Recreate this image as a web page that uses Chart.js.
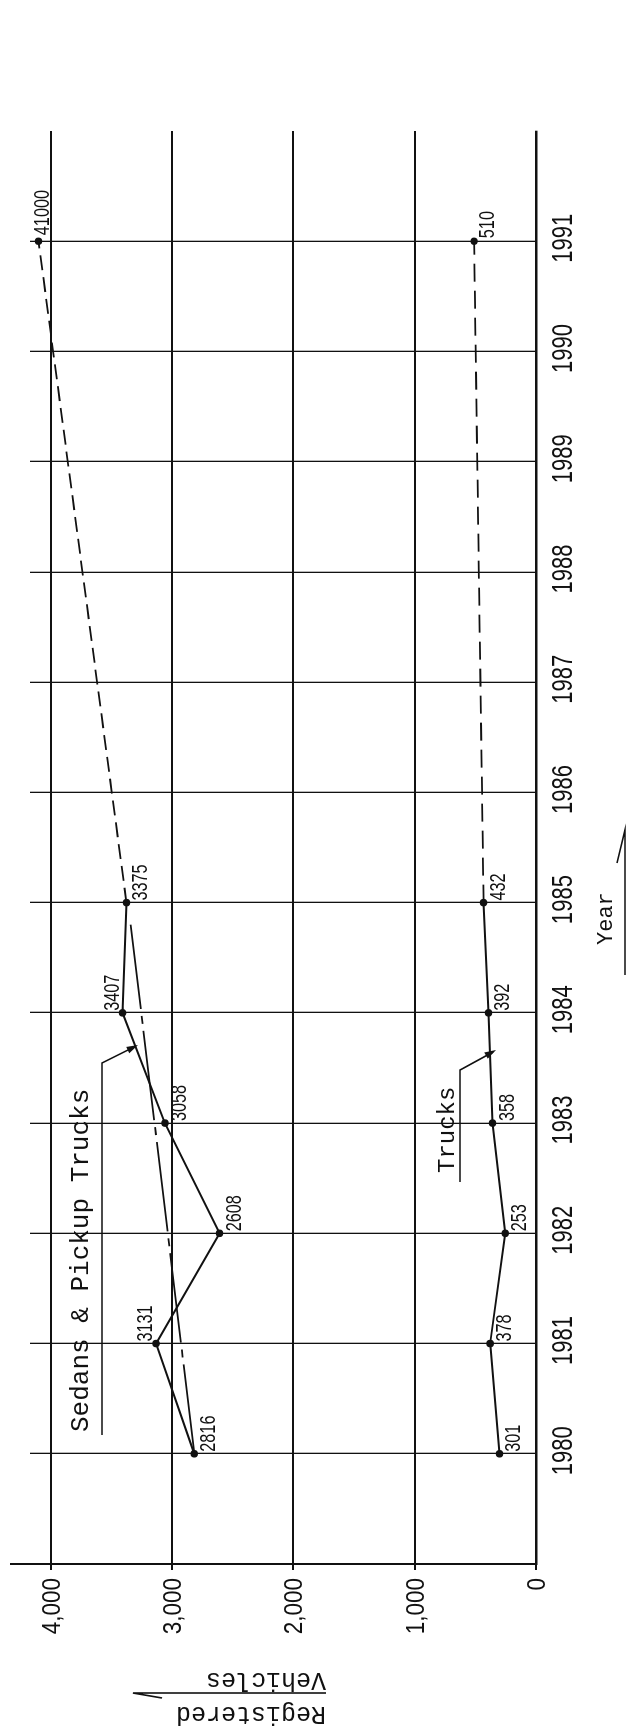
<!DOCTYPE html>
<html>
<head>
<meta charset="utf-8">
<script src="https://cdn.jsdelivr.net/npm/chart.js@4"></script>
<style>
  html, body { margin: 0; padding: 0; background: #fff; }
  body { width: 631px; height: 1727px; overflow: hidden; position: relative; }
  /* the chart is drawn lying on its side, like the scanned page */
  #stage { position: absolute; left: 0; top: 0; transform-origin: 0 0;
           transform: translate(0, 1727px) rotate(-90deg); }
</style>
</head>
<body>
<canvas id="stage" width="1727" height="631"></canvas>
<script>
var years = [1980, 1981, 1982, 1983, 1984, 1985];
var sedans = [2816, 3131, 2608, 3058, 3407, 3375];
var trucks = [301, 378, 253, 358, 392, 432];
var projYears = [1985, 1991];
var sedansProj = [3375, 4100];
var trucksProj = [432, 510];
var trendYears = [1980, 1984.8];
var trendValues = [2816, 3340];

var sedanLabels = ['2816', '3131', '2608', '3058', '3407', '3375'];
var truckLabels = ['301', '378', '253', '358', '392', '432'];
var sedansProjLabel = '41000';
var trucksProjLabel = '510';

var yearTicks = [1980, 1981, 1982, 1983, 1984, 1985, 1986, 1987, 1988, 1989, 1990, 1991];
var valueTicks = [0, 1000, 2000, 3000, 4000];
var valueTickLabels = ['0', '1,000', '2,000', '3,000', '4,000'];

// which side of the point a label sits on (up = towards larger values)
var sedanSide = ['down', 'up', 'down', 'down', 'up', 'down'];

var INK = '#111';

function pts(xs, ys) {
  return xs.map(function (x, i) { return { x: x, y: ys[i] }; });
}

// narrow lettering, like the stencil digits on the drawing
function txt(ctx, s, x, y, font, sx, align) {
  ctx.save();
  ctx.font = font;
  ctx.fillStyle = INK;
  ctx.textAlign = align || 'left';
  ctx.textBaseline = 'alphabetic';
  ctx.translate(x, y);
  ctx.scale(sx, 1);
  ctx.fillText(s, 0, 0);
  ctx.restore();
}

function line(ctx, coords, w) {
  ctx.beginPath();
  ctx.moveTo(coords[0][0], coords[0][1]);
  for (var i = 1; i < coords.length; i++) ctx.lineTo(coords[i][0], coords[i][1]);
  ctx.lineWidth = w || 1.5;
  ctx.strokeStyle = INK;
  ctx.stroke();
}

function arrowHead(ctx, fx, fy, tx, ty) {
  var a = Math.atan2(ty - fy, tx - fx);
  ctx.beginPath();
  ctx.moveTo(tx, ty);
  ctx.lineTo(tx - 12 * Math.cos(a - 0.3), ty - 12 * Math.sin(a - 0.3));
  ctx.lineTo(tx - 12 * Math.cos(a + 0.3), ty - 12 * Math.sin(a + 0.3));
  ctx.closePath();
  ctx.fillStyle = INK;
  ctx.fill();
}

var decor = {
  id: 'decor',
  afterDraw: function (chart) {
    var ctx = chart.ctx;
    var xs = chart.scales.x, ys = chart.scales.y;
    var area = chart.chartArea;

    // axis line runs a bit past the top gridline
    line(ctx, [[area.left, area.top], [area.left, 10]], 2);

    // year labels
    yearTicks.forEach(function (yr) {
      txt(ctx, String(yr), xs.getPixelForValue(yr) + 3, 572, '29px "Liberation Sans"', 0.76, 'center');
    });
    // value labels
    valueTicks.forEach(function (v, i) {
      txt(ctx, valueTickLabels[i], 149, ys.getPixelForValue(v) + 9, '25px "Liberation Sans"', 0.9, 'right');
    });

    var lf = '22px "Liberation Sans"';
    sedans.forEach(function (v, i) {
      var px = xs.getPixelForValue(years[i]), py = ys.getPixelForValue(v);
      var by = sedanSide[i] === 'up' ? py - 4 : py + 21;
      txt(ctx, sedanLabels[i], px + 2, by, lf, 0.74);
    });
    trucks.forEach(function (v, i) {
      var px = xs.getPixelForValue(years[i]), py = ys.getPixelForValue(v);
      txt(ctx, truckLabels[i], px + 2, py + 21, lf, 0.74);
    });
    var p1x = xs.getPixelForValue(projYears[1]);
    txt(ctx, sedansProjLabel, p1x + 6, ys.getPixelForValue(sedansProj[1]) + 11, lf, 0.74);
    txt(ctx, trucksProjLabel, p1x + 3, ys.getPixelForValue(trucksProj[1]) + 20, lf, 0.74);

    // series names with their leader lines
    var mono = '"Liberation Mono", monospace';
    txt(ctx, 'Sedans & Pickup Trucks', 295, 88, '26px ' + mono, 1);
    line(ctx, [[292, 102], [664, 102], [680, 134]], 1.6);
    arrowHead(ctx, 664, 102, 682, 138);
    txt(ctx, 'Trucks', 554, 454, '24px ' + mono, 1);
    line(ctx, [[545, 460], [657, 460], [675, 493]], 1.6);
    arrowHead(ctx, 657, 460, 677, 496);

    // axis titles
    txt(ctx, 'Year', 782, 612, '22px ' + mono, 1);
    line(ctx, [[752, 625], [897, 625], [864, 617]], 1.6);

    ctx.save();
    ctx.translate(20, 326);
    ctx.rotate(-Math.PI / 2);
    txt(ctx, 'Registered', 0, 0, '25px ' + mono, 1);
    ctx.restore();
    ctx.save();
    ctx.translate(54, 326);
    ctx.rotate(-Math.PI / 2);
    txt(ctx, 'Vehicles', 0, 0, '25px ' + mono, 1);
    ctx.restore();
    line(ctx, [[34, 326], [34, 133], [29, 162]], 1.6);
  }
};

new Chart(document.getElementById('stage'), {
  type: 'line',
  data: {
    datasets: [
      { data: pts(years, sedans), borderWidth: 2, pointRadius: 2.8 },
      { data: pts(projYears, sedansProj), borderWidth: 1.8, borderDash: [15, 7], pointRadius: [0, 2.8] },
      { data: pts(trendYears, trendValues), borderWidth: 1.8, borderDash: [90, 7, 8, 7], pointRadius: 0 },
      { data: pts(years, trucks), borderWidth: 2, pointRadius: 2.8 },
      { data: pts(projYears, trucksProj), borderWidth: 1.8, borderDash: [18, 9], pointRadius: [0, 2.8] }
    ]
  },
  options: {
    responsive: false,
    animation: false,
    events: [],
    devicePixelRatio: 1,
    layout: { padding: { left: 157, right: 131, top: 30, bottom: 95 } },
    elements: {
      line: { borderColor: INK, tension: 0, fill: false },
      point: { backgroundColor: INK, borderColor: INK, borderWidth: 0 }
    },
    plugins: { legend: { display: false }, tooltip: { enabled: false } },
    scales: {
      x: {
        type: 'linear', min: 1979, max: 1992,
        afterBuildTicks: function (s) { s.ticks = yearTicks.map(function (v) { return { value: v }; }); },
        ticks: { display: false },
        grid: { color: INK, lineWidth: 1.3, drawTicks: false },
        border: { color: INK, width: 2.6 }
      },
      y: {
        type: 'linear', min: 0, max: 4170,
        afterBuildTicks: function (s) { s.ticks = valueTicks.map(function (v) { return { value: v }; }); },
        ticks: { display: false },
        grid: { color: INK, lineWidth: 2, tickLength: 6 },
        border: { color: INK, width: 2 }
      }
    }
  },
  plugins: [decor]
});
</script>
</body>
</html>
